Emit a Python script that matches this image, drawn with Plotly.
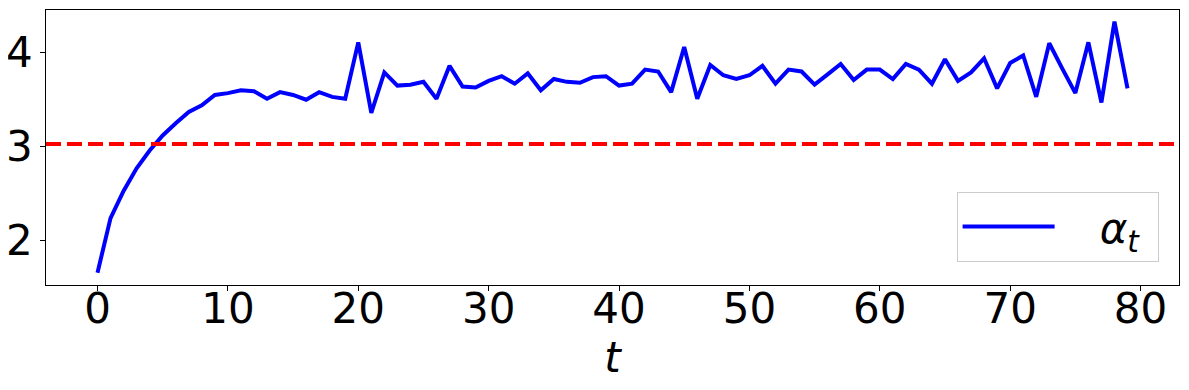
import plotly.graph_objects as go

t_values = list(range(80))
alpha_t = [
    1.66, 2.24, 2.53, 2.77, 2.96, 3.12, 3.25, 3.37, 3.44, 3.55,
    3.57, 3.60, 3.59, 3.51, 3.58, 3.55, 3.50, 3.58, 3.53, 3.51,
    4.11, 3.36, 3.79, 3.65, 3.66, 3.69, 3.51, 3.86, 3.64, 3.63,
    3.70, 3.75, 3.67, 3.78, 3.60, 3.72, 3.69, 3.68, 3.74, 3.75,
    3.65, 3.67, 3.82, 3.80, 3.58, 4.06, 3.51, 3.87, 3.76, 3.72,
    3.76, 3.86, 3.67, 3.82, 3.80, 3.66, 3.77, 3.88, 3.71, 3.82,
    3.82, 3.72, 3.88, 3.82, 3.67, 3.93, 3.70, 3.79, 3.94, 3.62,
    3.89, 3.97, 3.53, 4.10, 3.83, 3.57, 4.11, 3.47, 4.33, 3.62,
]
threshold = 3.03
x_ticks = [0, 10, 20, 30, 40, 50, 60, 70, 80]
y_ticks = [2, 3, 4]

FONT = "DejaVu Sans"

fig = go.Figure()

fig.add_trace(
    go.Scatter(
        x=t_values,
        y=alpha_t,
        mode="lines",
        line=dict(color="#0000ff", width=4),
        name="&nbsp;&nbsp;&nbsp;<i>α</i><sub><i>t</i></sub>&nbsp;",
        showlegend=True,
    )
)

fig.add_hline(y=threshold, line=dict(color="#ff0000", width=4, dash="15px,6px"))

axis_common = dict(
    showline=True,
    mirror=True,
    linecolor="black",
    linewidth=1,
    showgrid=False,
    zeroline=False,
    ticks="outside",
    ticklen=5,
    tickwidth=1,
    tickcolor="black",
    tickfont=dict(family=FONT, size=42, color="black"),
)

fig.update_xaxes(
    range=[-3.95, 82.95],
    tickvals=x_ticks,
    ticklabelstandoff=-18,
    automargin=True,
    title=dict(text="<i>t</i>", font=dict(family=FONT, size=42, color="black"), standoff=2),
    **axis_common,
)
fig.update_yaxes(
    range=[1.529, 4.454],
    tickvals=y_ticks,
    ticklabelstandoff=-1,
    automargin=False,
    **axis_common,
)

# page body adds an 8px offset, so the figure is sized to fit the window
fig.update_layout(
    width=1181,
    height=382,
    margin=dict(l=38, r=10, t=2, b=105),
    plot_bgcolor="white",
    paper_bgcolor="white",
    font=dict(family=FONT, color="black"),
    showlegend=True,
    legend=dict(
        x=0.982,
        y=0.085,
        xanchor="right",
        yanchor="bottom",
        bgcolor="white",
        bordercolor="#cccccc",
        borderwidth=1,
        itemwidth=92,
        font=dict(family=FONT, size=42, color="black"),
    ),
)

fig.write_html("out.html")
